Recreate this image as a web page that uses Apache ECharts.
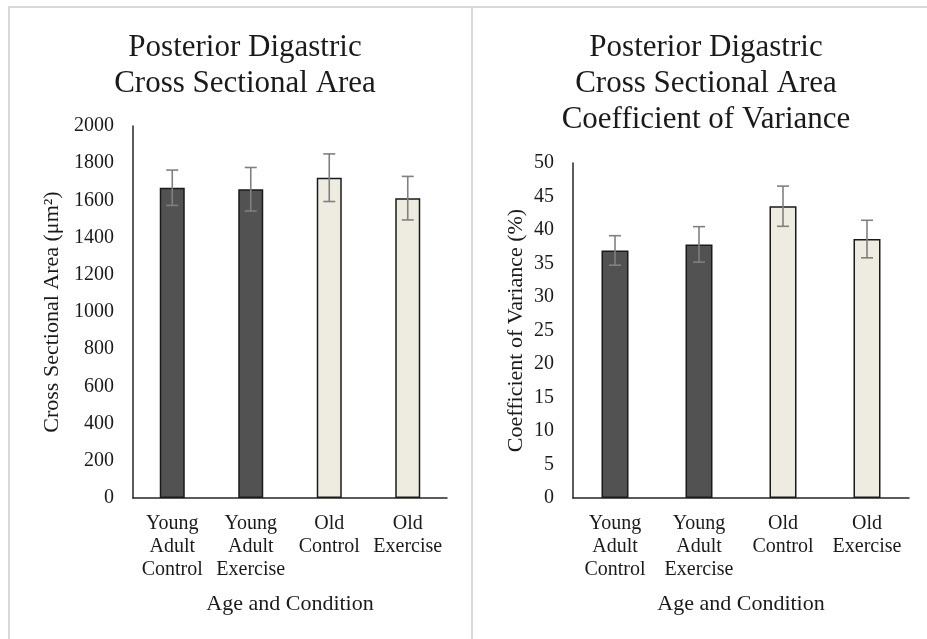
<!DOCTYPE html>
<html>
<head>
<meta charset="utf-8">
<script src="https://cdn.jsdelivr.net/npm/echarts@6/dist/echarts.min.js"></script>
<style>
html,body{margin:0;padding:0;background:#fff;}
#chart{width:927px;height:639px;}
</style>
</head>
<body>
<div id="chart"></div>
<script>
const categories = ['Young\nAdult\nControl', 'Young\nAdult\nExercise', 'Old\nControl', 'Old\nExercise'];
const csaMeans = [1668, 1660, 1722, 1612];
const csaErr = [95, 117, 128, 117];
const covMeans = [36.95, 37.85, 43.55, 38.65];
const covErr = [2.2, 2.65, 3.0, 2.8];
const csaTicks = { min: 0, max: 2000, interval: 200 };
const covTicks = { min: 0, max: 50, interval: 5 };

const FONT = '"Liberation Serif", serif';
const DARK = '#525252';
const LIGHT = '#EEECE1';
const barColors = [DARK, DARK, LIGHT, LIGHT];

function barData(vals) {
  return vals.map((v, i) => ({ value: v, itemStyle: { color: barColors[i] } }));
}
function errData(means, errs) {
  return means.map((m, i) => [i, m - errs[i], m + errs[i]]);
}
function errRender(params, api) {
  const x = api.value(0);
  const lo = api.coord([x, api.value(1)]);
  const hi = api.coord([x, api.value(2)]);
  const hw = 6;
  const style = { stroke: '#808080', lineWidth: 1.6, fill: null };
  return {
    type: 'group',
    children: [
      { type: 'line', shape: { x1: hi[0], y1: hi[1], x2: lo[0], y2: lo[1] }, style },
      { type: 'line', shape: { x1: hi[0] - hw, y1: hi[1], x2: hi[0] + hw, y2: hi[1] }, style },
      { type: 'line', shape: { x1: lo[0] - hw, y1: lo[1], x2: lo[0] + hw, y2: lo[1] }, style }
    ]
  };
}

const axisText = { fontFamily: FONT, color: '#1a1a1a' };

function xAxis(gridIndex) {
  return {
    type: 'category', gridIndex, data: categories,
    axisLine: { lineStyle: { color: '#262626', width: 1.5 } },
    axisTick: { show: false },
    axisLabel: { ...axisText, fontSize: 20, lineHeight: 23, margin: 14, interval: 0 },
    name: 'Age and Condition', nameLocation: 'middle', nameGap: 95,
    nameTextStyle: { ...axisText, fontSize: 22 }
  };
}
function yAxis(gridIndex, ticks, name, gap) {
  return {
    type: 'value', gridIndex, min: ticks.min, max: ticks.max, interval: ticks.interval,
    splitLine: { show: false },
    axisLine: { show: true, lineStyle: { color: '#262626', width: 1.5 } },
    axisTick: { show: false },
    axisLabel: { ...axisText, fontSize: 20, margin: 19, formatter: v => String(v) },
    name, nameLocation: 'middle', nameGap: gap,
    nameTextStyle: { ...axisText, fontSize: 22 }
  };
}

const chart = echarts.init(document.getElementById('chart'));
chart.setOption({
  backgroundColor: '#fff',
  animation: false,
  title: [
    { text: 'Posterior Digastric\nCross Sectional Area', left: 240, top: 25, textAlign: 'center',
      textStyle: { fontFamily: FONT, fontSize: 31, fontWeight: 'normal', color: '#1a1a1a', lineHeight: 36 } },
    { text: 'Posterior Digastric\nCross Sectional Area\nCoefficient of Variance', left: 701, top: 25, textAlign: 'center',
      textStyle: { fontFamily: FONT, fontSize: 31, fontWeight: 'normal', color: '#1a1a1a', lineHeight: 36 } }
  ],
  graphic: [
    { type: 'line', shape: { x1: 8, y1: 7, x2: 927, y2: 7 }, style: { stroke: '#d9d9d9', lineWidth: 2 } },
    { type: 'line', shape: { x1: 9, y1: 7, x2: 9, y2: 639 }, style: { stroke: '#d9d9d9', lineWidth: 2 } },
    { type: 'line', shape: { x1: 472, y1: 7, x2: 472, y2: 639 }, style: { stroke: '#d9d9d9', lineWidth: 2 } }
  ],
  grid: [
    { left: 133, width: 314, top: 126, bottom: 141 },
    { left: 573, width: 336, top: 163, bottom: 141 }
  ],
  xAxis: [xAxis(0), xAxis(1)],
  yAxis: [
    yAxis(0, csaTicks, 'Cross Sectional Area (μm²)', 70),
    yAxis(1, covTicks, 'Coefficient of Variance (%)', 46)
  ],
  series: [
    { type: 'bar', xAxisIndex: 0, yAxisIndex: 0, data: barData(csaMeans), barWidth: 25,
      itemStyle: { borderColor: '#1a1a1a', borderWidth: 1.5 } },
    { type: 'custom', xAxisIndex: 0, yAxisIndex: 0, data: errData(csaMeans, csaErr),
      renderItem: errRender, encode: { x: 0, y: [1, 2] }, z: 5 },
    { type: 'bar', xAxisIndex: 1, yAxisIndex: 1, data: barData(covMeans), barWidth: 27,
      itemStyle: { borderColor: '#1a1a1a', borderWidth: 1.5 } },
    { type: 'custom', xAxisIndex: 1, yAxisIndex: 1, data: errData(covMeans, covErr),
      renderItem: errRender, encode: { x: 0, y: [1, 2] }, z: 5 }
  ]
});
</script>
</body>
</html>
